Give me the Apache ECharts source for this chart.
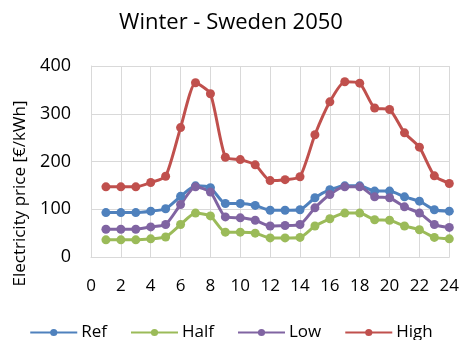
<!DOCTYPE html>
<html>
<head>
<meta charset="utf-8">
<script src="https://cdn.jsdelivr.net/npm/echarts@6/dist/echarts.min.js"></script>
<style>
  html, body { margin: 0; padding: 0; background: #fff; }
  #chart { width: 462px; height: 340px; }
</style>
</head>
<body>
<div id="chart"></div>
<script>
// Hours of the day
const hours = [1,2,3,4,5,6,7,8,9,10,11,12,13,14,15,16,17,18,19,20,21,22,23,24];

// Electricity price per scenario [€/kWh]
const ref  = [93,93,93,96,101,127,149,145,112,112,108,98,98,99,124,141,149,149,138,138,126,117,99,96];
const half = [36,36,36,38,42,68,92,86,52,52,50,40,40,41,65,80,92,92,78,77,65,57,41,38];
const low  = [58,58,58,63,68,110,147,136,84,82,77,65,66,68,103,131,147,147,126,124,105,92,68,62];
const high = [147,147,147,156,169,271,365,342,209,204,193,160,162,168,256,325,367,364,312,309,260,230,170,154];

const seriesNames = ['Ref', 'Half', 'Low', 'High'];
const seriesData = [ref, half, low, high];
const colors = ['#4F81BD', '#9BBB59', '#8064A2', '#C0504D'];

const font = 'Open Sans, Noto Sans, sans-serif';

const chart = echarts.init(document.getElementById('chart'), null, { renderer: 'canvas' });

chart.setOption({
  animation: false,
  backgroundColor: '#ffffff',
  title: {
    text: 'Winter - Sweden 2050',
    left: 'center',
    top: 7,
    textStyle: { fontFamily: font, fontSize: 22, fontWeight: 'normal', color: '#000' }
  },
  legend: {
    bottom: -6,
    left: 'center',
    itemWidth: 47,
    itemHeight: 9,
    itemGap: 23,
    textStyle: { fontFamily: font, fontSize: 17, color: '#000', padding: [0, 0, 0, -1] },
    data: seriesNames
  },
  grid: { left: 91, right: 8, top: 66, bottom: 83 },
  xAxis: {
    type: 'value',
    min: 0, max: 24, interval: 2,
    axisLine: { lineStyle: { color: '#D9D9D9', width: 1 } },
    axisTick: { show: false },
    axisLabel: { fontFamily: font, fontSize: 17, color: '#000', margin: 21 },
    splitLine: { show: true, lineStyle: { color: '#D9D9D9', width: 1 } }
  },
  yAxis: {
    type: 'value',
    min: 0, max: 400, interval: 100,
    name: 'Electricity price [€/kWh]',
    nameLocation: 'middle',
    nameGap: 62,
    nameTextStyle: { fontFamily: font, fontSize: 17, color: '#000', padding: [0, 64, 0, 0] },
    axisLine: { show: true, lineStyle: { color: '#D9D9D9', width: 1 } },
    axisTick: { show: false },
    axisLabel: { fontFamily: font, fontSize: 18, color: '#000', margin: 20 },
    splitLine: { show: true, lineStyle: { color: '#D9D9D9', width: 1 } }
  },
  series: seriesNames.map((name, i) => ({
    name,
    type: 'line',
    smooth: 0.2,
    symbol: 'circle',
    symbolSize: 9,
    color: colors[i],
    lineStyle: { width: 3, color: colors[i] },
    itemStyle: { color: colors[i] },
    data: hours.map((h, k) => [h, seriesData[i][k]])
  }))
});
</script>
</body>
</html>
